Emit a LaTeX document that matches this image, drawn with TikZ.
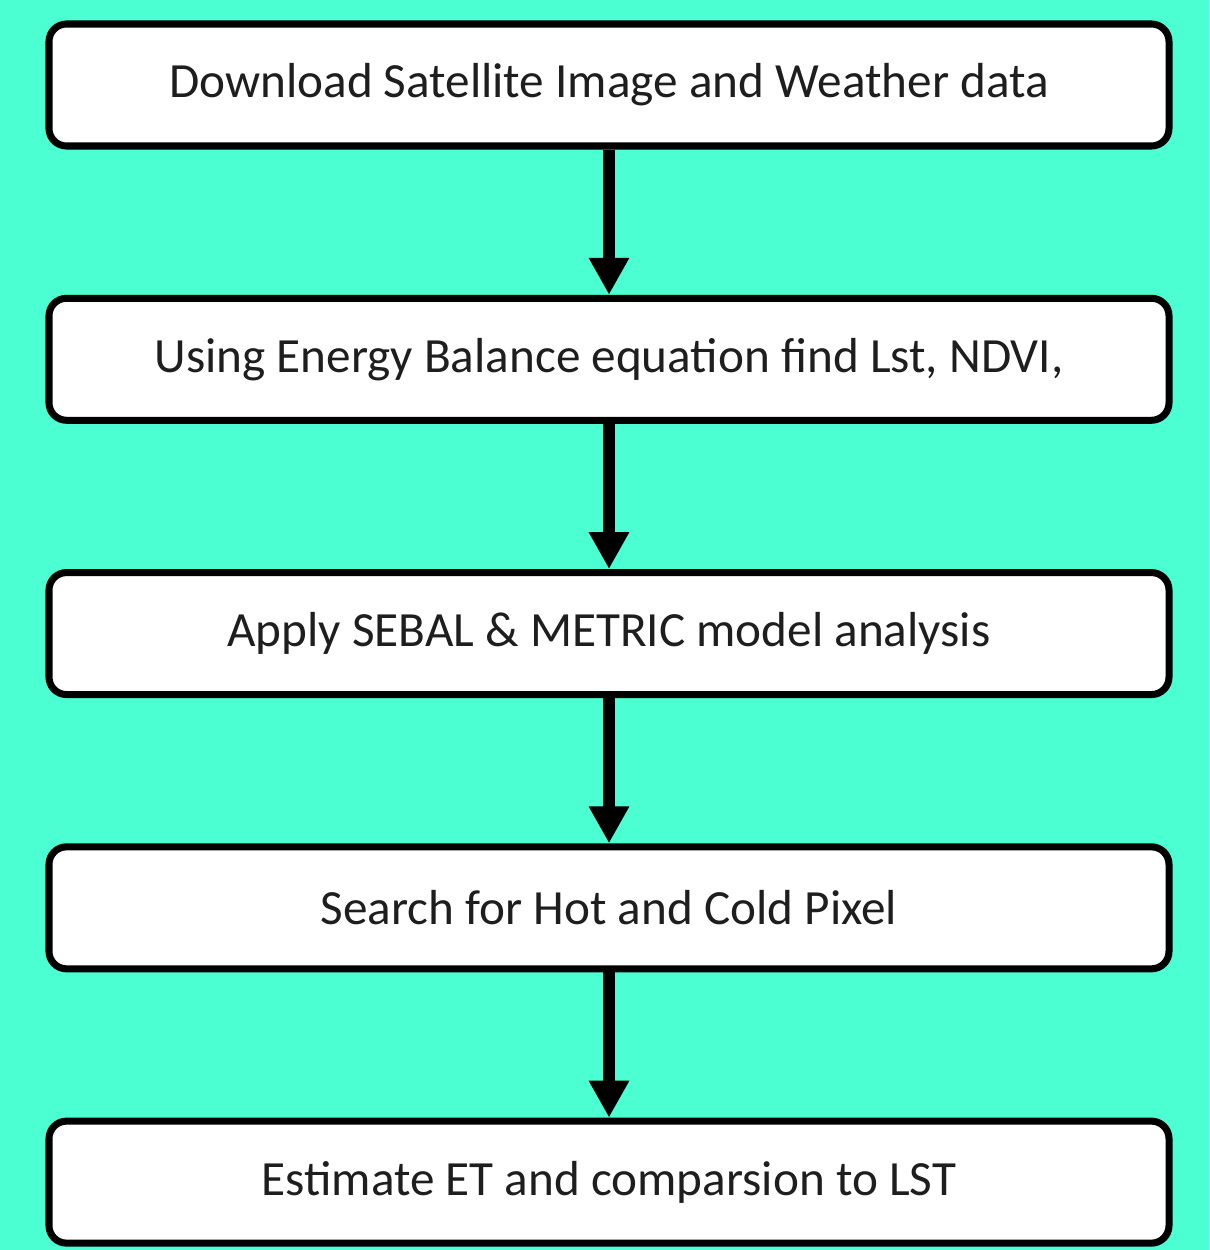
\documentclass[tikz,border=0pt]{standalone}
\usepackage{fontspec}
\setmainfont{Carlito}
\usepackage{xcolor}
\usepackage{tikz}
\usetikzlibrary{arrows.meta,positioning}
\definecolor{mint}{RGB}{76,255,210}
\definecolor{ink}{RGB}{30,30,30}
\tikzset{
  stagebox/.style={draw=black, line width=4pt, rounded corners=3.5mm, fill=white,
    minimum width=224mm, minimum height=24.4mm, align=center,
    text=ink, font=\fontsize{28}{32}\selectfont},
  flow/.style={-{Triangle[width=7.6mm, length=7.4mm]}, line width=7pt}
}

\begin{document}
\begin{tikzpicture}[node distance=29.05mm]
% page and background
\fill[mint] (0,0) rectangle (24.18,-25);
\useasboundingbox (0,0) rectangle (24.18,-25);

\node[stagebox] (download) at (12.18,-1.70) {Download Satellite Image and Weather data};
\node[stagebox, below=of download] (energy) {Using Energy Balance equation find Lst, NDVI,};
\node[stagebox, below=of energy] (sebal) {Apply SEBAL \& METRIC model analysis};
\node[stagebox, below=of sebal] (pixel) {Search for Hot and Cold Pixel};
\node[stagebox, below=of pixel] (estimate) {Estimate ET and comparsion to LST};

\draw[flow] (download.south)--(energy.north);
\draw[flow] (energy.south)--(sebal.north);
\draw[flow] (sebal.south)--(pixel.north);
\draw[flow] (pixel.south)--(estimate.north);
\end{tikzpicture}
\end{document}
